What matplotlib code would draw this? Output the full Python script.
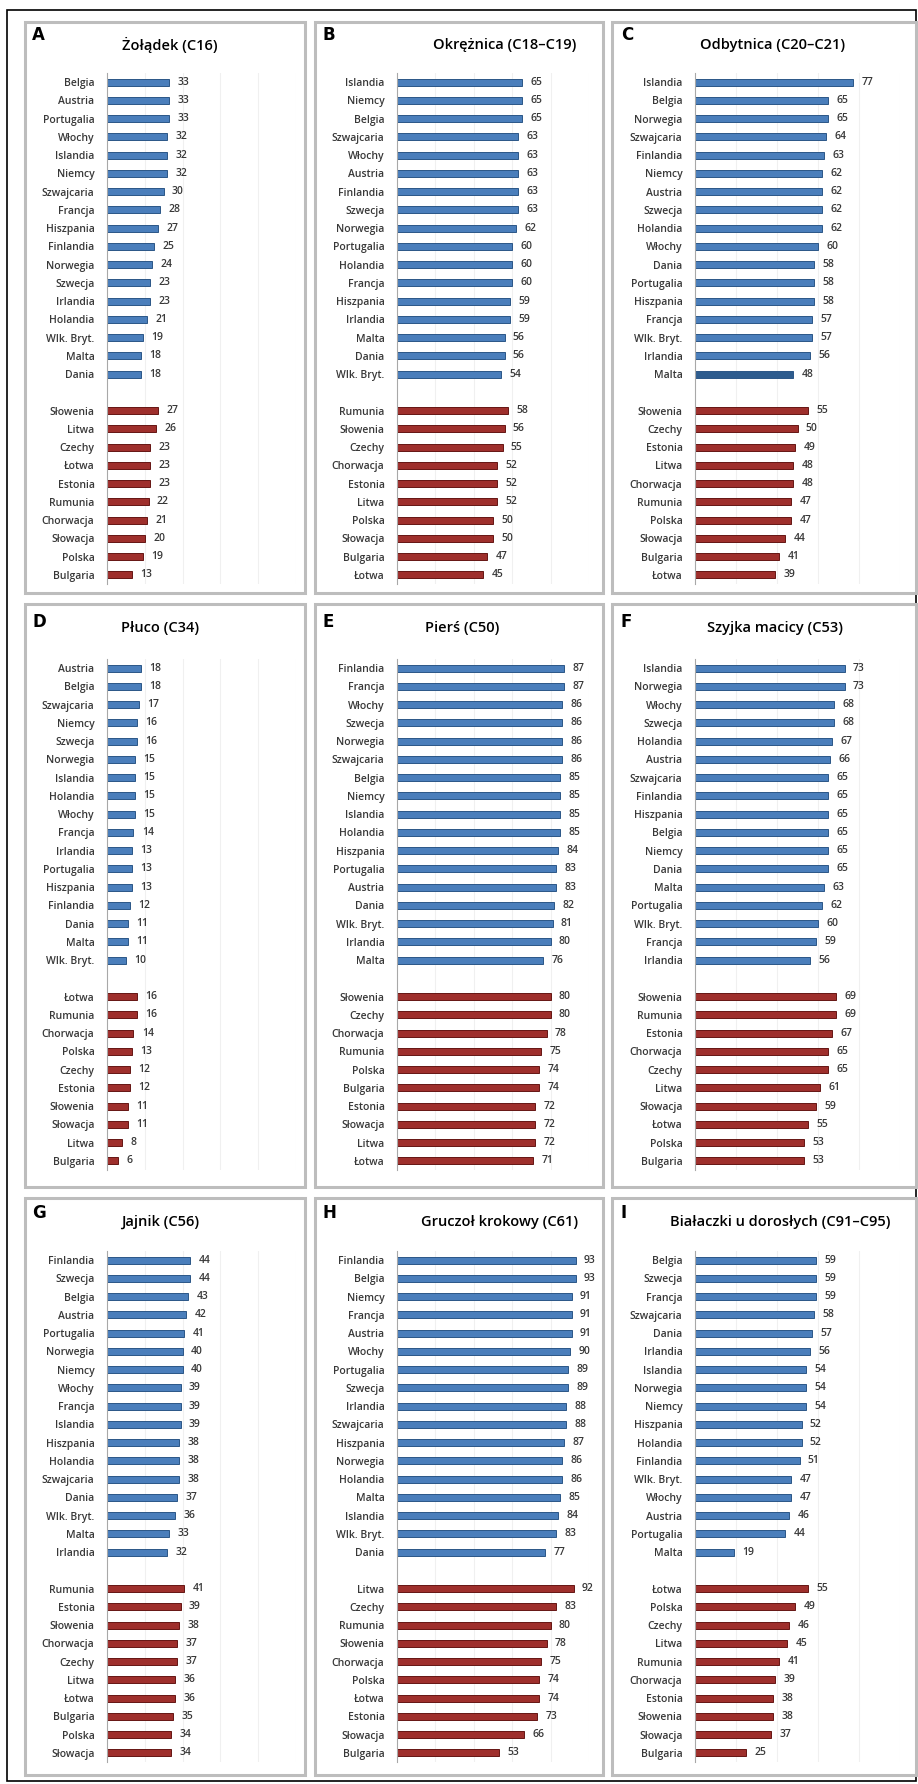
import matplotlib.pyplot as plt
from matplotlib.patches import Rectangle

W, H = 918, 1784

titles = ['Żołądek (C16)', 'Okrężnica (C18–C19)', 'Odbytnica (C20–C21)',
          'Płuco (C34)', 'Pierś (C50)', 'Szyjka macicy (C53)',
          'Jajnik (C56)', 'Gruczoł krokowy (C61)', 'Białaczki u dorosłych (C91–C95)']
letters = ['A', 'B', 'C', 'D', 'E', 'F', 'G', 'H', 'I']

# A - zoladek
a_west = ['Belgia', 'Austria', 'Portugalia', 'Włochy', 'Islandia', 'Niemcy', 'Szwajcaria', 'Francja',
          'Hiszpania', 'Finlandia', 'Norwegia', 'Szwecja', 'Irlandia', 'Holandia', 'Wlk. Bryt.', 'Malta', 'Dania']
a_west_val = [33, 33, 33, 32, 32, 32, 30, 28, 27, 25, 24, 23, 23, 21, 19, 18, 18]
a_east = ['Słowenia', 'Litwa', 'Czechy', 'Łotwa', 'Estonia', 'Rumunia', 'Chorwacja', 'Słowacja', 'Polska', 'Bulgaria']
a_east_val = [27, 26, 23, 23, 23, 22, 21, 20, 19, 13]

# B - okreznica
b_west = ['Islandia', 'Niemcy', 'Belgia', 'Szwajcaria', 'Włochy', 'Austria', 'Finlandia', 'Szwecja',
          'Norwegia', 'Portugalia', 'Holandia', 'Francja', 'Hiszpania', 'Irlandia', 'Malta', 'Dania', 'Wlk. Bryt.']
b_west_val = [65, 65, 65, 63, 63, 63, 63, 63, 62, 60, 60, 60, 59, 59, 56, 56, 54]
b_east = ['Rumunia', 'Słowenia', 'Czechy', 'Chorwacja', 'Estonia', 'Litwa', 'Polska', 'Słowacja', 'Bulgaria', 'Łotwa']
b_east_val = [58, 56, 55, 52, 52, 52, 50, 50, 47, 45]

# C - odbytnica
c_west = ['Islandia', 'Belgia', 'Norwegia', 'Szwajcaria', 'Finlandia', 'Niemcy', 'Austria', 'Szwecja',
          'Holandia', 'Włochy', 'Dania', 'Portugalia', 'Hiszpania', 'Francja', 'Wlk. Bryt.', 'Irlandia', 'Malta']
c_west_val = [77, 65, 65, 64, 63, 62, 62, 62, 62, 60, 58, 58, 58, 57, 57, 56, 48]
c_east = ['Słowenia', 'Czechy', 'Estonia', 'Litwa', 'Chorwacja', 'Rumunia', 'Polska', 'Słowacja', 'Bulgaria', 'Łotwa']
c_east_val = [55, 50, 49, 48, 48, 47, 47, 44, 41, 39]

# D - pluco
d_west = ['Austria', 'Belgia', 'Szwajcaria', 'Niemcy', 'Szwecja', 'Norwegia', 'Islandia', 'Holandia',
          'Włochy', 'Francja', 'Irlandia', 'Portugalia', 'Hiszpania', 'Finlandia', 'Dania', 'Malta', 'Wlk. Bryt.']
d_west_val = [18, 18, 17, 16, 16, 15, 15, 15, 15, 14, 13, 13, 13, 12, 11, 11, 10]
d_east = ['Łotwa', 'Rumunia', 'Chorwacja', 'Polska', 'Czechy', 'Estonia', 'Słowenia', 'Słowacja', 'Litwa', 'Bulgaria']
d_east_val = [16, 16, 14, 13, 12, 12, 11, 11, 8, 6]

# E - piers
e_west = ['Finlandia', 'Francja', 'Włochy', 'Szwecja', 'Norwegia', 'Szwajcaria', 'Belgia', 'Niemcy',
          'Islandia', 'Holandia', 'Hiszpania', 'Portugalia', 'Austria', 'Dania', 'Wlk. Bryt.', 'Irlandia', 'Malta']
e_west_val = [87, 87, 86, 86, 86, 86, 85, 85, 85, 85, 84, 83, 83, 82, 81, 80, 76]
e_east = ['Słowenia', 'Czechy', 'Chorwacja', 'Rumunia', 'Polska', 'Bulgaria', 'Estonia', 'Słowacja', 'Litwa', 'Łotwa']
e_east_val = [80, 80, 78, 75, 74, 74, 72, 72, 72, 71]

# F - szyjka macicy
f_west = ['Islandia', 'Norwegia', 'Włochy', 'Szwecja', 'Holandia', 'Austria', 'Szwajcaria', 'Finlandia',
          'Hiszpania', 'Belgia', 'Niemcy', 'Dania', 'Malta', 'Portugalia', 'Wlk. Bryt.', 'Francja', 'Irlandia']
f_west_val = [73, 73, 68, 68, 67, 66, 65, 65, 65, 65, 65, 65, 63, 62, 60, 59, 56]
f_east = ['Słowenia', 'Rumunia', 'Estonia', 'Chorwacja', 'Czechy', 'Litwa', 'Słowacja', 'Łotwa', 'Polska', 'Bulgaria']
f_east_val = [69, 69, 67, 65, 65, 61, 59, 55, 53, 53]

# G - jajnik
g_west = ['Finlandia', 'Szwecja', 'Belgia', 'Austria', 'Portugalia', 'Norwegia', 'Niemcy', 'Włochy',
          'Francja', 'Islandia', 'Hiszpania', 'Holandia', 'Szwajcaria', 'Dania', 'Wlk. Bryt.', 'Malta', 'Irlandia']
g_west_val = [44, 44, 43, 42, 41, 40, 40, 39, 39, 39, 38, 38, 38, 37, 36, 33, 32]
g_east = ['Rumunia', 'Estonia', 'Słowenia', 'Chorwacja', 'Czechy', 'Litwa', 'Łotwa', 'Bulgaria', 'Polska', 'Słowacja']
g_east_val = [41, 39, 38, 37, 37, 36, 36, 35, 34, 34]

# H - gruczol krokowy
h_west = ['Finlandia', 'Belgia', 'Niemcy', 'Francja', 'Austria', 'Włochy', 'Portugalia', 'Szwecja',
          'Irlandia', 'Szwajcaria', 'Hiszpania', 'Norwegia', 'Holandia', 'Malta', 'Islandia', 'Wlk. Bryt.', 'Dania']
h_west_val = [93, 93, 91, 91, 91, 90, 89, 89, 88, 88, 87, 86, 86, 85, 84, 83, 77]
h_east = ['Litwa', 'Czechy', 'Rumunia', 'Słowenia', 'Chorwacja', 'Polska', 'Łotwa', 'Estonia', 'Słowacja', 'Bulgaria']
h_east_val = [92, 83, 80, 78, 75, 74, 74, 73, 66, 53]

# I - bialaczki
i_west = ['Belgia', 'Szwecja', 'Francja', 'Szwajcaria', 'Dania', 'Irlandia', 'Islandia', 'Norwegia',
          'Niemcy', 'Hiszpania', 'Holandia', 'Finlandia', 'Wlk. Bryt.', 'Włochy', 'Austria', 'Portugalia', 'Malta']
i_west_val = [59, 59, 59, 58, 57, 56, 54, 54, 54, 52, 52, 51, 47, 47, 46, 44, 19]
i_east = ['Łotwa', 'Polska', 'Czechy', 'Litwa', 'Rumunia', 'Chorwacja', 'Estonia', 'Słowenia', 'Słowacja', 'Bulgaria']
i_east_val = [55, 49, 46, 45, 41, 39, 38, 38, 37, 25]

panels = [(a_west, a_west_val, a_east, a_east_val), (b_west, b_west_val, b_east, b_east_val),
          (c_west, c_west_val, c_east, c_east_val), (d_west, d_west_val, d_east, d_east_val),
          (e_west, e_west_val, e_east, e_east_val), (f_west, f_west_val, f_east, f_east_val),
          (g_west, g_west_val, g_east, g_east_val), (h_west, h_west_val, h_east, h_east_val),
          (i_west, i_west_val, i_east, i_east_val)]

# layout in pixels
col_box = [(25, 305), (315, 603), (612, 916)]
row_box = [(22, 593), (604, 1187), (1198, 1775)]
ax_left = [107, 397, 695]
ax_width = [189, 192, 205]
ax_top = [73, 659, 1251]
ax_h = 511
title_x = [170, 505, 773, 160, 462, 775, 160, 500, 780]
title_y = [45, 628, 1222]
letter_x = [32, 322, 621]
letter_y = [35, 622, 1213]

blue, blue_edge = '#4a7ebb', '#2b5687'
red, red_edge = '#9e2f2c', '#651613'
txt = '#383838'

fig = plt.figure(figsize=(W / 100, H / 100), dpi=100)
bg = fig.add_axes([0, 0, 1, 1])
bg.set_xlim(0, W)
bg.set_ylim(H, 0)
bg.axis('off')
bg.add_patch(Rectangle((7, 10), 909, 1771, fill=False, ec='black', lw=1.2))

for k, (wn, wv, en, ev) in enumerate(panels):
    r, c = k // 3, k % 3
    x0, x1 = col_box[c]
    y0, y1 = row_box[r]
    bg.add_patch(Rectangle((x0, y0), x1 - x0, y1 - y0, fill=True, fc='white', ec='#bdbdbd', lw=2.2))
    bg.text(letter_x[c], letter_y[r], letters[k], fontsize=12, fontweight='bold', family='DejaVu Sans',
            va='center', ha='left', color='black')
    bg.text(title_x[k], title_y[r], titles[k], fontsize=10.5, fontweight='semibold', family='Open Sans',
            va='center', ha='center', color='black')

    ax = fig.add_axes([ax_left[c] / W, 1 - (ax_top[r] + ax_h) / H, ax_width[c] / W, ax_h / H])
    ypos_w = list(range(len(wn)))
    ypos_e = [len(wn) + 1 + i for i in range(len(en))]
    wcol = [blue] * len(wn)
    if k == 2:
        wcol[-1] = '#2e5c8e'  # malta darker in C
    ax.barh(ypos_w, wv, height=0.38, color=wcol, edgecolor=blue_edge, linewidth=0.7, zorder=3)
    ax.barh(ypos_e, ev, height=0.38, color=red, edgecolor=red_edge, linewidth=0.7, zorder=3)
    for y, v in zip(ypos_w + ypos_e, wv + ev):
        ax.annotate(str(v), (v, y), xytext=(6, 0), textcoords='offset points', va='center', ha='left',
                    fontsize=7.5, color=txt, family='Open Sans', fontweight='semibold')
    ax.set_ylim(ypos_e[-1] + 0.5, -0.5)
    ax.set_xlim(0, 100)
    ax.set_yticks(ypos_w + ypos_e)
    ax.set_yticklabels(wn + en, fontsize=7.5, color=txt, family='Open Sans', fontweight='semibold')
    ax.set_xticks([20, 40, 60, 80, 100])
    ax.set_xticklabels([])
    ax.tick_params(length=0, pad=9)
    ax.grid(axis='x', color='#f0f0f0', lw=0.8, zorder=0)
    for s in ['top', 'right', 'bottom']:
        ax.spines[s].set_visible(False)
    ax.spines['left'].set_color('#a8a8a8')
    ax.spines['left'].set_zorder(4)
    ax.patch.set_alpha(0)

fig.savefig('out.png', dpi=100)
